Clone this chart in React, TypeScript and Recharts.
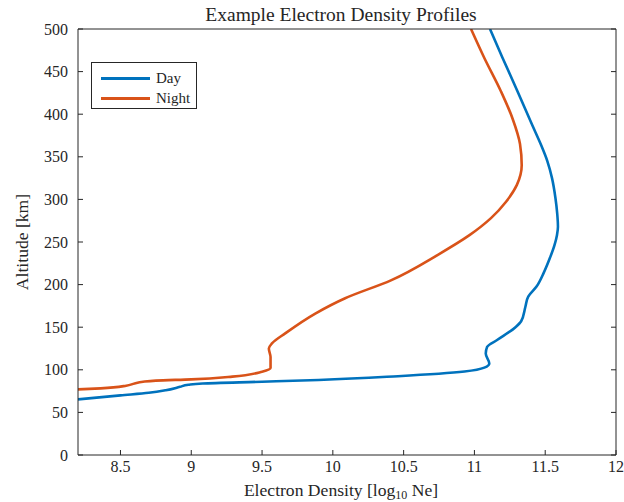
import { LineChart, Line, XAxis, YAxis, Legend } from "recharts";

const serif = "'Liberation Serif', 'Times New Roman', serif";
const ink = "#262626";

const xTicks = [8.5, 9, 9.5, 10, 10.5, 11, 11.5, 12];
const yTicks = [0, 50, 100, 150, 200, 250, 300, 350, 400, 450, 500];

// day profile (log10 Ne vs km)
const dayNe = [
  8.2, 8.5, 8.7, 8.82, 8.92, 8.98, 9.08, 9.5, 9.9, 10.46, 10.93, 11.07, 11.105,
  11.08, 11.09, 11.16, 11.29, 11.33, 11.36, 11.38, 11.44, 11.49, 11.535, 11.565,
  11.583, 11.59, 11.585, 11.572, 11.548, 11.515, 11.468, 11.409, 11.304, 11.199,
  11.11,
];
const dayAlt = [
  65.3, 70, 73, 76, 80, 82.5, 84, 86, 88, 92.5, 98, 102.5, 107.5, 119, 127, 135,
  150, 157, 174, 186, 198, 214, 232, 246, 258, 268, 283, 302, 325, 345, 365,
  387, 427, 466, 500,
];

// night profile
const nightNe = [
  8.2, 8.36, 8.54, 8.6, 8.66, 8.75, 9.0, 9.29, 9.5, 9.56, 9.56, 9.548, 9.57,
  9.666, 9.876, 10.087, 10.41, 10.742, 10.965, 11.117, 11.222, 11.3, 11.334,
  11.322, 11.269, 11.187, 11.07, 10.976,
];
const nightAlt = [
  77, 78.2, 81.3, 84, 86, 87.3, 88.8, 92, 97.8, 102, 115, 125, 131, 143, 166,
  184, 205, 235, 258, 278, 297, 317, 340, 365, 395, 427, 466, 500,
];

const toRows = (ne: number[], alt: number[]) =>
  ne.map((v, i) => ({ ne: v, alt: alt[i] }));

const dayData = toRows(dayNe, dayAlt);
const nightData = toRows(nightNe, nightAlt);

const tickStyle = { fill: ink, fontSize: 16, fontFamily: serif };

const LegendBox = ({ payload }: any) => (
  <div
    style={{
      width: 104,
      height: 45,
      border: `1px solid ${ink}`,
      background: "#fff",
      fontFamily: serif,
      fontSize: 15,
      color: ink,
      position: "relative",
    }}
  >
    {(payload || []).map((p: any, i: number) => (
      <div
        key={p.value}
        style={{
          position: "absolute",
          left: 9,
          top: 5 + i * 20,
          height: 20,
          display: "flex",
          alignItems: "center",
        }}
      >
        <span
          style={{
            display: "inline-block",
            width: 49,
            height: 3,
            background: p.color,
            marginRight: 6,
          }}
        />
        <span>{p.value}</span>
      </div>
    ))}
  </div>
);

export default function App() {
  return (
    <div style={{ position: "absolute", left: 0, top: 0, width: 624, height: 502, background: "#fff" }}>
      <LineChart
        width={624}
        height={502}
        margin={{ top: 28, right: 7, bottom: 0, left: 0 }}
      >
        <XAxis
          dataKey="ne"
          type="number"
          domain={[8.2, 12]}
          ticks={xTicks}
          allowDataOverflow
          height={47}
          tickSize={-5}
          tickMargin={11}
          tick={tickStyle}
          stroke={ink}
          interval={0}
        />
        <XAxis
          xAxisId="top"
          orientation="top"
          type="number"
          domain={[8.2, 12]}
          ticks={xTicks}
          allowDataOverflow
          height={1}
          tickSize={-5}
          tickFormatter={() => ""}
          stroke={ink}
          interval={0}
        />
        <YAxis
          type="number"
          domain={[0, 500]}
          ticks={yTicks}
          allowDataOverflow
          width={78}
          tickSize={-5}
          tickMargin={15}
          tick={tickStyle}
          stroke={ink}
          interval={0}
        />
        <YAxis
          yAxisId="right"
          orientation="right"
          type="number"
          domain={[0, 500]}
          ticks={yTicks}
          allowDataOverflow
          width={1}
          tickSize={-5}
          tickFormatter={() => ""}
          stroke={ink}
          interval={0}
        />
        <Legend
          layout="horizontal"
          verticalAlign="middle"
          align="center"
          content={<LegendBox />}
          wrapperStyle={{ left: 91, top: 62, width: 106, bottom: "auto" }}
        />
        <Line
          data={dayData}
          dataKey="alt"
          name="Day"
          type="monotoneY"
          stroke="#0072BD"
          strokeWidth={2.6}
          dot={false}
          activeDot={false}
          isAnimationActive={false}
        />
        <Line
          data={nightData}
          dataKey="alt"
          name="Night"
          type="monotoneY"
          stroke="#D95319"
          strokeWidth={2.6}
          dot={false}
          activeDot={false}
          isAnimationActive={false}
        />
      </LineChart>
      <svg
        width={624}
        height={502}
        style={{ position: "absolute", left: 0, top: 0, pointerEvents: "none" }}
      >
        <text x={341} y={20.7} textAnchor="middle" fontFamily={serif} fontSize={19.5} fill={ink}>
          Example Electron Density Profiles
        </text>
        <text x={341} y={495.5} textAnchor="middle" fontFamily={serif} fontSize={17.6} fill={ink}>
          Electron Density [log
          <tspan fontSize={12} dy={3.5}>10</tspan>
          <tspan dy={-3.5}> Ne]</tspan>
        </text>
        <text
          x={28}
          y={242}
          textAnchor="middle"
          fontFamily={serif}
          fontSize={17.6}
          fill={ink}
          transform="rotate(-90 28 242)"
        >
          Altitude [km]
        </text>
      </svg>
    </div>
  );
}
